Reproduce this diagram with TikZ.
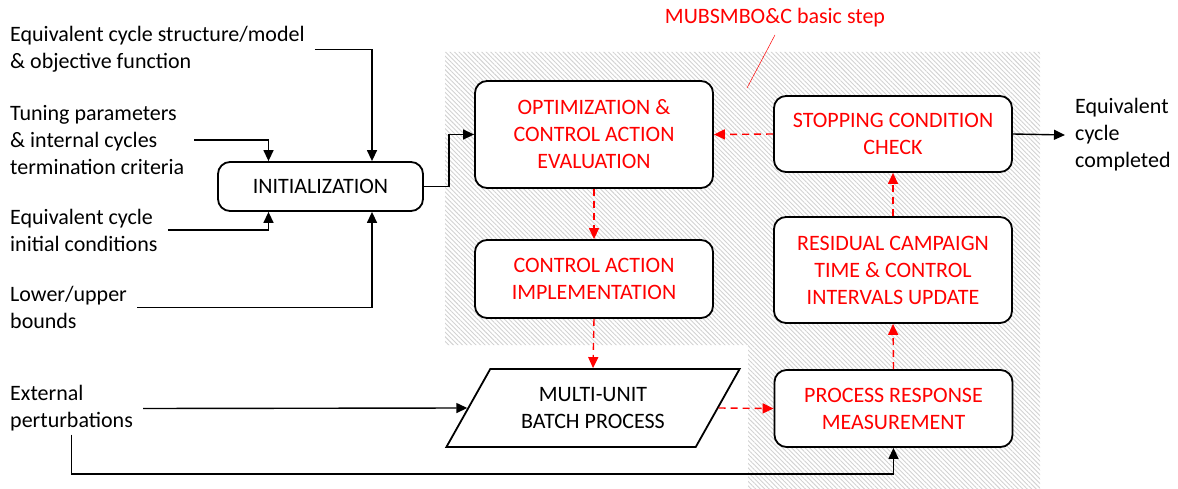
\documentclass[tikz,border=0pt]{standalone}
\usepackage{fontspec}
\setmainfont{Carlito}
\usetikzlibrary{shapes.geometric,arrows.meta,patterns.meta}

\begin{document}
\begin{tikzpicture}[x=1pt, y=-1pt,
  font=\fontsize{22}{27}\selectfont,
  box/.style={draw, line width=1.8pt, rounded corners=12pt, fill=white,
    align=center, minimum width=238pt, inner sep=0pt},
  redbox/.style={box, text=red},
  datain/.style={anchor=west, align=left, inner xsep=10pt, inner ysep=3pt},
  arr/.style={line width=1.4pt, -{Triangle[length=11pt,width=10pt]}},
  redarr/.style={arr, red, dash pattern=on 7pt off 5pt}]
\useasboundingbox (0,0) rectangle (1178,489);

% hatched area of the basic step
\fill[pattern={Lines[angle=-45,distance=3.2pt,line width=0.9pt]}, pattern color=gray!35]
  (445,52) -- (1040,52) -- (1040,489) -- (748,489) -- (748,345) -- (445,345) -- cycle;

\node[text=red] (step) at (775,18) {MUBSMBO\&C basic step};
\coordinate (steptip) at (747,88);
\draw[red, line width=0.5pt] ([yshift=-4pt]step.south) -- (steptip);

% inputs
\node[datain] (model) at (0,49.5) {Equivalent cycle structure/model\\\& objective function};
\node[datain] (tuning) at (0,140) {Tuning parameters\\\& internal cycles\\termination criteria};
\node[datain] (initcond) at (0,230) {Equivalent cycle\\initial conditions};
\node[datain] (bounds) at (0,307.5) {Lower/upper\\bounds};
\node[datain] (ext) at (0,408.5) {External\\perturbations};
\node[datain] (done) at (1065,135) {Equivalent\\cycle\\completed};

% blocks
\node[box, minimum width=205pt, minimum height=49pt] (init) at (320.5,186.5) {INITIALIZATION};
\node[redbox, minimum height=107pt] (opt) at (594,134.5) {OPTIMIZATION \&\\CONTROL ACTION\\EVALUATION};
\node[redbox, minimum height=78pt] (cai) at (594,279) {CONTROL ACTION\\IMPLEMENTATION};
\node[draw, line width=1.8pt, fill=white, align=center, inner sep=0pt,
  trapezium, trapezium left angle=53.4, trapezium right angle=126.6,
  trapezium stretches=true, minimum width=294pt, minimum height=78pt]
  (batch) at (593,408) {MULTI-UNIT\\BATCH PROCESS};
\node[redbox, minimum height=77pt] (prm) at (893.5,408.5) {PROCESS RESPONSE\\MEASUREMENT};
\node[redbox, minimum height=106pt] (resid) at (893,270) {RESIDUAL CAMPAIGN\\TIME \& CONTROL\\INTERVALS UPDATE};
\node[redbox, minimum height=76pt] (stop) at (893,134) {STOPPING CONDITION\\CHECK};

% initialization links
\draw[arr] (model.east) -| ([xshift=51.5pt]init.north);
\draw[arr] (tuning.east) -| ([xshift=-52pt]init.north);
\draw[arr] (initcond.east) -| ([xshift=-52pt]init.south);
\draw[arr] (bounds.east) -| ([xshift=51.5pt]init.south);
\draw[arr] (init.east) -- ([xshift=25pt]init.east) |- (opt.west);

% process links
\draw[arr] (ext.east) -- (batch.west);
\draw[arr] (ext.south) |- ([yshift=-26pt]prm.south) -- (prm.south);
\draw[arr] (stop.east) -- (done.west);

% basic step loop
\draw[redarr] (opt.south) -- (cai.north);
\draw[redarr] (cai.south) -- (batch.north);
\draw[redarr] (batch.east) -- (prm.west);
\draw[redarr] (prm.north) -- (resid.south);
\draw[redarr] (resid.north) -- (stop.south);
\draw[redarr] (stop.west) -- (opt.east);

\end{tikzpicture}
\end{document}
